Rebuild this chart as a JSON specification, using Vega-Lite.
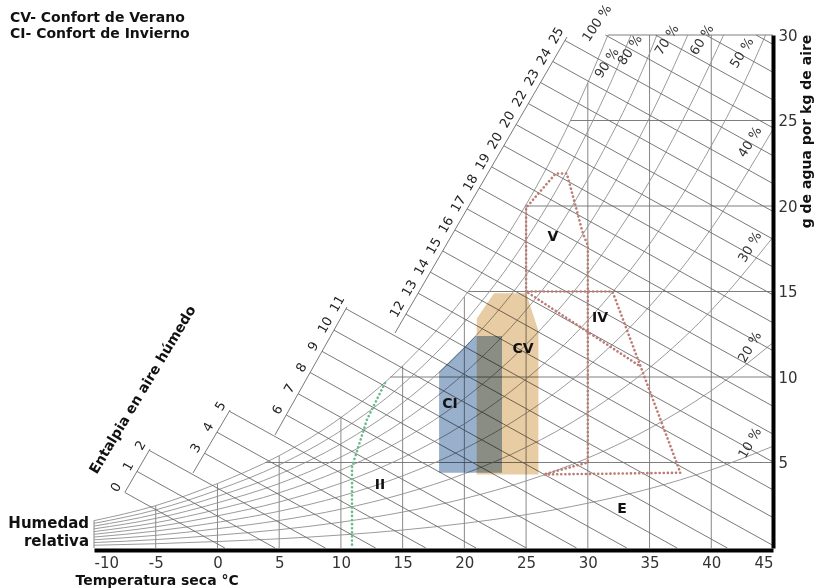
{
 "$schema": "https://vega.github.io/schema/vega-lite/v6.json",
 "width": 679, "height": 513,
 "autosize": "none",
 "padding": {"left": 94, "top": 35, "right": 47, "bottom": 40},
 "background": "white",
 "config": {"view": {"stroke": null}, "font": "DejaVu Sans"},
 "datasets": {
  "vgrid": [
   {"T": -10, "w": 0, "w2": 1.6}, {"T": -5, "w": 0, "w2": 2.48}, {"T": 0, "w": 0, "w2": 3.77}, {"T": 5, "w": 0, "w2": 5.4},
   {"T": 10, "w": 0, "w2": 7.63}, {"T": 15, "w": 0, "w2": 10.65}, {"T": 20, "w": 0, "w2": 14.7}, {"T": 25, "w": 0, "w2": 20.08},
   {"T": 30, "w": 0, "w2": 27.21}, {"T": 35, "w": 0, "w2": 30}, {"T": 40, "w": 0, "w2": 30}
  ],
  "hgrid": [
   {"T": 3.85, "T2": 45, "w": 5}, {"T": 14.0, "T2": 45, "w": 10}, {"T": 20.3, "T2": 45, "w": 15},
   {"T": 24.94, "T2": 45, "w": 20}, {"T": 28.6, "T2": 45, "w": 25}, {"T": 31.63, "T2": 45, "w": 30}
  ],
  "rh": [
   {"p": 100, "T": -10, "w": 1.6}, {"p": 100, "T": -5, "w": 2.48}, {"p": 100, "T": 0, "w": 3.77}, {"p": 100, "T": 5, "w": 5.4}, {"p": 100, "T": 10, "w": 7.63}, {"p": 100, "T": 15, "w": 10.65}, {"p": 100, "T": 20, "w": 14.7}, {"p": 100, "T": 25, "w": 20.08}, {"p": 100, "T": 27.5, "w": 23.38}, {"p": 100, "T": 30, "w": 27.21}, {"p": 100, "T": 31.63, "w": 30},
   {"p": 90, "T": -10, "w": 1.44}, {"p": 90, "T": -5, "w": 2.23}, {"p": 90, "T": 0, "w": 3.39}, {"p": 90, "T": 5, "w": 4.86}, {"p": 90, "T": 10, "w": 6.86}, {"p": 90, "T": 15, "w": 9.57}, {"p": 90, "T": 20, "w": 13.2}, {"p": 90, "T": 25, "w": 18.02}, {"p": 90, "T": 30, "w": 24.38}, {"p": 90, "T": 32, "w": 27.45}, {"p": 90, "T": 33.5, "w": 30},
   {"p": 80, "T": -10, "w": 1.28}, {"p": 80, "T": -5, "w": 1.98}, {"p": 80, "T": 0, "w": 3.02}, {"p": 80, "T": 5, "w": 4.31}, {"p": 80, "T": 10, "w": 6.09}, {"p": 80, "T": 15, "w": 8.49}, {"p": 80, "T": 20, "w": 11.7}, {"p": 80, "T": 25, "w": 15.96}, {"p": 80, "T": 30, "w": 21.58}, {"p": 80, "T": 35, "w": 28.92}, {"p": 80, "T": 35.6, "w": 30},
   {"p": 70, "T": -10, "w": 1.12}, {"p": 70, "T": -5, "w": 1.73}, {"p": 70, "T": 0, "w": 2.64}, {"p": 70, "T": 5, "w": 3.77}, {"p": 70, "T": 10, "w": 5.32}, {"p": 70, "T": 15, "w": 7.41}, {"p": 70, "T": 20, "w": 10.22}, {"p": 70, "T": 25, "w": 13.92}, {"p": 70, "T": 30, "w": 18.8}, {"p": 70, "T": 35, "w": 25.16}, {"p": 70, "T": 37, "w": 28.22}, {"p": 70, "T": 38.1, "w": 30},
   {"p": 60, "T": -10, "w": 0.96}, {"p": 60, "T": -5, "w": 1.48}, {"p": 60, "T": 0, "w": 2.26}, {"p": 60, "T": 5, "w": 3.23}, {"p": 60, "T": 10, "w": 4.56}, {"p": 60, "T": 15, "w": 6.34}, {"p": 60, "T": 20, "w": 8.74}, {"p": 60, "T": 25, "w": 11.9}, {"p": 60, "T": 30, "w": 16.04}, {"p": 60, "T": 35, "w": 21.44}, {"p": 60, "T": 40, "w": 28.44}, {"p": 60, "T": 41.0, "w": 30},
   {"p": 50, "T": -10, "w": 0.8}, {"p": 50, "T": -5, "w": 1.24}, {"p": 50, "T": 0, "w": 1.88}, {"p": 50, "T": 5, "w": 2.69}, {"p": 50, "T": 10, "w": 3.79}, {"p": 50, "T": 15, "w": 5.28}, {"p": 50, "T": 20, "w": 7.26}, {"p": 50, "T": 25, "w": 9.88}, {"p": 50, "T": 30, "w": 13.31}, {"p": 50, "T": 35, "w": 17.77}, {"p": 50, "T": 40, "w": 23.52}, {"p": 50, "T": 42.5, "w": 26.96}, {"p": 50, "T": 44.4, "w": 30},
   {"p": 40, "T": -10, "w": 0.64}, {"p": 40, "T": -5, "w": 0.99}, {"p": 40, "T": 0, "w": 1.5}, {"p": 40, "T": 5, "w": 2.15}, {"p": 40, "T": 10, "w": 3.03}, {"p": 40, "T": 15, "w": 4.22}, {"p": 40, "T": 20, "w": 5.8}, {"p": 40, "T": 25, "w": 7.88}, {"p": 40, "T": 30, "w": 10.6}, {"p": 40, "T": 35, "w": 14.13}, {"p": 40, "T": 40, "w": 18.68}, {"p": 40, "T": 45, "w": 24.48},
   {"p": 30, "T": -10, "w": 0.48}, {"p": 30, "T": -5, "w": 0.74}, {"p": 30, "T": 0, "w": 1.13}, {"p": 30, "T": 5, "w": 1.61}, {"p": 30, "T": 10, "w": 2.27}, {"p": 30, "T": 15, "w": 3.16}, {"p": 30, "T": 20, "w": 4.34}, {"p": 30, "T": 25, "w": 5.89}, {"p": 30, "T": 30, "w": 7.92}, {"p": 30, "T": 35, "w": 10.54}, {"p": 30, "T": 40, "w": 13.9}, {"p": 30, "T": 45, "w": 18.18},
   {"p": 20, "T": -10, "w": 0.32}, {"p": 20, "T": -5, "w": 0.49}, {"p": 20, "T": 0, "w": 0.75}, {"p": 20, "T": 5, "w": 1.07}, {"p": 20, "T": 10, "w": 1.51}, {"p": 20, "T": 15, "w": 2.1}, {"p": 20, "T": 20, "w": 2.89}, {"p": 20, "T": 25, "w": 3.92}, {"p": 20, "T": 30, "w": 5.26}, {"p": 20, "T": 35, "w": 6.99}, {"p": 20, "T": 40, "w": 9.2}, {"p": 20, "T": 45, "w": 12.01},
   {"p": 10, "T": -10, "w": 0.16}, {"p": 10, "T": -5, "w": 0.25}, {"p": 10, "T": 0, "w": 0.38}, {"p": 10, "T": 5, "w": 0.54}, {"p": 10, "T": 10, "w": 0.76}, {"p": 10, "T": 15, "w": 1.05}, {"p": 10, "T": 20, "w": 1.44}, {"p": 10, "T": 25, "w": 1.95}, {"p": 10, "T": 30, "w": 2.62}, {"p": 10, "T": 35, "w": 3.47}, {"p": 10, "T": 40, "w": 4.57}, {"p": 10, "T": 45, "w": 5.95}
  ],
  "hl": [
   {"id": "s1", "T": -7.49, "w": 3.27}, {"id": "s1", "T": -5.465, "w": 5.785},
   {"id": "s2", "T": -1.98, "w": 4.39}, {"id": "s2", "T": 1.02, "w": 8.07},
   {"id": "s3", "T": 4.66, "w": 6.61}, {"id": "s3", "T": 10.49, "w": 14.09},
   {"id": "s4", "T": 14.38, "w": 12.57}, {"id": "s4", "T": 28.31, "w": 29.88},
   {"id": "h0", "T": -7.51, "w": 3.25}, {"id": "h0", "T": 0.6, "w": 0},
   {"id": "h1", "T": -6.52, "w": 4.48}, {"id": "h1", "T": 4.67, "w": 0},
   {"id": "h2", "T": -5.53, "w": 5.71}, {"id": "h2", "T": 8.74, "w": 0},
   {"id": "h3", "T": -1.04, "w": 5.54}, {"id": "h3", "T": 12.81, "w": 0},
   {"id": "h4", "T": -0.04, "w": 6.77}, {"id": "h4", "T": 16.88, "w": 0},
   {"id": "h5", "T": 0.96, "w": 8.0}, {"id": "h5", "T": 20.95, "w": 0},
   {"id": "h6", "T": 5.57, "w": 7.78}, {"id": "h6", "T": 25.02, "w": 0},
   {"id": "h7", "T": 6.54, "w": 9.02}, {"id": "h7", "T": 29.09, "w": 0},
   {"id": "h8", "T": 7.51, "w": 10.26}, {"id": "h8", "T": 33.16, "w": 0},
   {"id": "h9", "T": 8.47, "w": 11.5}, {"id": "h9", "T": 37.23, "w": 0},
   {"id": "h10", "T": 9.44, "w": 12.74}, {"id": "h10", "T": 41.3, "w": 0},
   {"id": "h11", "T": 10.41, "w": 13.99}, {"id": "h11", "T": 45, "w": 0.15},
   {"id": "h12", "T": 15.27, "w": 13.67}, {"id": "h12", "T": 45, "w": 1.78},
   {"id": "h13", "T": 16.26, "w": 14.9}, {"id": "h13", "T": 45, "w": 3.4},
   {"id": "h14", "T": 17.25, "w": 16.13}, {"id": "h14", "T": 45, "w": 5.03},
   {"id": "h15", "T": 18.24, "w": 17.37}, {"id": "h15", "T": 45, "w": 6.66},
   {"id": "h16", "T": 19.23, "w": 18.6}, {"id": "h16", "T": 45, "w": 8.29},
   {"id": "h17", "T": 20.22, "w": 19.83}, {"id": "h17", "T": 45, "w": 9.92},
   {"id": "h18", "T": 21.21, "w": 21.06}, {"id": "h18", "T": 45, "w": 11.54},
   {"id": "h19", "T": 22.2, "w": 22.29}, {"id": "h19", "T": 45, "w": 13.17},
   {"id": "h20", "T": 23.2, "w": 23.52}, {"id": "h20", "T": 45, "w": 14.8},
   {"id": "h21", "T": 24.19, "w": 24.76}, {"id": "h21", "T": 45, "w": 16.43},
   {"id": "h22", "T": 25.18, "w": 25.99}, {"id": "h22", "T": 45, "w": 18.06},
   {"id": "h23", "T": 26.17, "w": 27.22}, {"id": "h23", "T": 45, "w": 19.68},
   {"id": "h24", "T": 27.16, "w": 28.45}, {"id": "h24", "T": 45, "w": 21.31},
   {"id": "h25", "T": 28.15, "w": 29.68}, {"id": "h25", "T": 45, "w": 22.94},
   {"id": "h26", "T": 31.42, "w": 30}, {"id": "h26", "T": 45, "w": 24.57},
   {"id": "h27", "T": 35.49, "w": 30}, {"id": "h27", "T": 45, "w": 26.2},
   {"id": "h28", "T": 39.56, "w": 30}, {"id": "h28", "T": 45, "w": 27.82},
   {"id": "h29", "T": 43.63, "w": 30}, {"id": "h29", "T": 45, "w": 29.45}
  ],
  "hlab": [
   {"lab": "0", "T": -7.51, "w": 3.25}, {"lab": "1", "T": -6.52, "w": 4.48}, {"lab": "2", "T": -5.53, "w": 5.71},
   {"lab": "3", "T": -1.04, "w": 5.54}, {"lab": "4", "T": -0.04, "w": 6.77}, {"lab": "5", "T": 0.96, "w": 8.0},
   {"lab": "6", "T": 5.57, "w": 7.78}, {"lab": "7", "T": 6.54, "w": 9.02}, {"lab": "8", "T": 7.51, "w": 10.26},
   {"lab": "9", "T": 8.47, "w": 11.5}, {"lab": "10", "T": 9.44, "w": 12.74}, {"lab": "11", "T": 10.41, "w": 13.99},
   {"lab": "12", "T": 15.27, "w": 13.67}, {"lab": "13", "T": 16.26, "w": 14.9}, {"lab": "14", "T": 17.25, "w": 16.13},
   {"lab": "15", "T": 18.24, "w": 17.37}, {"lab": "16", "T": 19.23, "w": 18.6}, {"lab": "17", "T": 20.22, "w": 19.83},
   {"lab": "18", "T": 21.21, "w": 21.06}, {"lab": "19", "T": 22.2, "w": 22.29}, {"lab": "20", "T": 23.2, "w": 23.52},
   {"lab": "20", "T": 24.19, "w": 24.76}, {"lab": "22", "T": 25.18, "w": 25.99}, {"lab": "23", "T": 26.17, "w": 27.22},
   {"lab": "24", "T": 27.16, "w": 28.45}, {"lab": "25", "T": 28.15, "w": 29.68}
  ],
  "rhlab": [
   {"lab": "100 %", "T": 30.75, "w": 30.7}, {"lab": "90 %", "T": 31.55, "w": 28.36}, {"lab": "80 %", "T": 33.42, "w": 29.12},
   {"lab": "70 %", "T": 36.41, "w": 29.71}, {"lab": "60 %", "T": 39.25, "w": 29.71}, {"lab": "50 %", "T": 42.49, "w": 28.95},
   {"lab": "40 %", "T": 43.14, "w": 23.74}, {"lab": "30 %", "T": 43.14, "w": 17.6}, {"lab": "20 %", "T": 43.14, "w": 11.75},
   {"lab": "10 %", "T": 43.14, "w": 6.14}
  ],
  "cv": [{"T": 21.0, "w": 13.4, "w2": 4.3}, {"T": 22.4, "w": 14.9, "w2": 4.3}, {"T": 25.0, "w": 14.9, "w2": 4.3}, {"T": 26.0, "w": 12.7, "w2": 4.3}],
  "ci": [{"T": 17.95, "w": 10.3, "w2": 4.4}, {"T": 20.9, "w": 12.4, "w2": 4.4}, {"T": 23.05, "w": 12.4, "w2": 4.4}],
  "zone": [
   {"k": 1, "T": 25.0, "w": 15.0}, {"k": 2, "T": 25.0, "w": 19.9}, {"k": 3, "T": 27.4, "w": 21.9}, {"k": 4, "T": 28.3, "w": 21.9},
   {"k": 5, "T": 29.6, "w": 18.4}, {"k": 6, "T": 30.0, "w": 17.7}, {"k": 7, "T": 30.0, "w": 5.0}, {"k": 8, "T": 26.4, "w": 4.3},
   {"k": 9, "T": 37.5, "w": 4.4}, {"k": 10, "T": 32.0, "w": 15.0}, {"k": 11, "T": 25.0, "w": 15.0}, {"k": 12, "T": 34.3, "w": 10.6}
  ],
  "green": [{"k": 1, "T": 13.57, "w": 9.65}, {"k": 2, "T": 12.1, "w": 7.49}, {"k": 3, "T": 10.9, "w": 4.74}, {"k": 4, "T": 10.9, "w": 0}],
  "zlab": [
   {"lab": "V", "T": 27.18, "w": 18.19}, {"lab": "IV", "T": 30.99, "w": 13.45}, {"lab": "CV", "T": 24.75, "w": 11.64},
   {"lab": "CI", "T": 18.84, "w": 8.42}, {"lab": "II", "T": 13.17, "w": 3.68}, {"lab": "E", "T": 32.77, "w": 2.28}
  ],
  "heads": [
   {"lab": "CV- Confort de Verano", "T": -16.8, "w": 30.76},
   {"lab": "CI- Confort de Invierno", "T": -16.8, "w": 29.82}
  ]
 },
 "encoding": {
  "x": {"field": "T", "type": "quantitative", "scale": {"domain": [-10, 45], "nice": false, "zero": false},
   "axis": {"orient": "bottom", "values": [-10, -5, 0, 5, 10, 15, 20, 25, 30, 35, 40, 45], "labelExpr": "'' + datum.value", "grid": false, "ticks": false, "domainColor": "#000", "domainWidth": 4, "offset": 2, "zindex": 1,
    "labelFontSize": 15, "labelColor": "#333", "labelPadding": 5, "labelFont": "DejaVu Sans",
    "title": "Temperatura seca °C", "titleFontSize": 14, "titleFontWeight": "bold", "titleColor": "#111", "titleAnchor": "start", "titleAlign": "left", "titleX": -19, "titleY": 34, "titleBaseline": "alphabetic"}},
  "y": {"field": "w", "type": "quantitative", "scale": {"domain": [0, 30], "nice": false, "zero": false},
   "axis": {"orient": "right", "values": [5, 10, 15, 20, 25, 30], "grid": false, "ticks": false, "domainColor": "#000", "domainWidth": 4, "zindex": 1,
    "labelFontSize": 15, "labelColor": "#333", "labelPadding": 5, "labelFont": "DejaVu Sans",
    "title": "g de agua por kg de aire", "titleFontSize": 14, "titleFontWeight": "bold", "titleColor": "#111", "titleAngle": 270, "titleX": 33, "titleY": 96, "titleAlign": "center", "titleBaseline": "middle"}}
 },
 "layer": [
  {"data": {"name": "vgrid"}, "mark": {"type": "rule", "color": "#7a7a7a", "strokeWidth": 0.9}, "encoding": {"y2": {"field": "w2"}}},
  {"data": {"name": "hgrid"}, "mark": {"type": "rule", "color": "#6f6f6f", "strokeWidth": 0.9}, "encoding": {"x2": {"field": "T2"}}},
  {"data": {"name": "rh"}, "mark": {"type": "line", "color": "#8f8f8f", "strokeWidth": 0.9, "interpolate": "monotone"}, "encoding": {"detail": {"field": "p"}}},
  {"data": {"name": "hl"}, "mark": {"type": "line", "color": "#6a6a6a", "strokeWidth": 0.9}, "encoding": {"detail": {"field": "id"}}},
  {"data": {"name": "cv"}, "mark": {"type": "area", "color": "#e8cca4", "opacity": 1, "blend": "multiply"}, "encoding": {"y2": {"field": "w2"}}},
  {"data": {"name": "ci"}, "mark": {"type": "area", "color": "#98b0cb", "opacity": 1, "blend": "multiply"}, "encoding": {"y2": {"field": "w2"}}},
  {"data": {"name": "zone"}, "mark": {"type": "line", "color": "#bb7d75", "strokeWidth": 2.6, "strokeDash": [0.1, 4], "strokeCap": "round"}, "encoding": {"order": {"field": "k"}}},
  {"data": {"name": "green"}, "mark": {"type": "line", "color": "#6cbb8b", "strokeWidth": 2.6, "strokeDash": [0.1, 4], "strokeCap": "round"}, "encoding": {"order": {"field": "k"}}},
  {"data": {"name": "hlab"}, "mark": {"type": "text", "angle": -60, "align": "center", "baseline": "bottom", "dy": -3, "fontSize": 13, "color": "#222"}, "encoding": {"text": {"field": "lab"}}},
  {"data": {"name": "rhlab"}, "mark": {"type": "text", "align": "center", "baseline": "middle", "fontSize": 13, "color": "#333"},
   "encoding": {"text": {"field": "lab"}, "angle": {"field": "lab", "type": "nominal", "legend": null, "scale": {"domain": ["100 %", "90 %", "80 %", "70 %", "60 %", "50 %", "40 %", "30 %", "20 %", "10 %"], "range": [-56, -60, -60, -60, -60, -56, -48, -42, -36, -27]}}}},
  {"data": {"name": "zlab"}, "mark": {"type": "text", "align": "center", "baseline": "middle", "fontSize": 14, "fontWeight": "bold", "color": "#111"}, "encoding": {"text": {"field": "lab"}}},
  {"data": {"name": "heads"}, "mark": {"type": "text", "align": "left", "baseline": "alphabetic", "fontSize": 14, "fontWeight": "bold", "color": "#111"}, "encoding": {"text": {"field": "lab"}}},
  {"data": {"values": [{"T": -6.03, "w": 9.24}]}, "mark": {"type": "text", "text": "Entalpia en aire húmedo", "angle": -59, "align": "center", "baseline": "middle", "fontSize": 14, "fontWeight": "bold", "color": "#111"}},
  {"data": {"values": [{"T": -10, "w": 1.9}]}, "mark": {"type": "text", "text": ["Humedad", "relativa"], "align": "right", "baseline": "top", "dx": -5, "lineHeight": 18, "fontSize": 15, "fontWeight": "bold", "color": "#111"}}
 ]
}
